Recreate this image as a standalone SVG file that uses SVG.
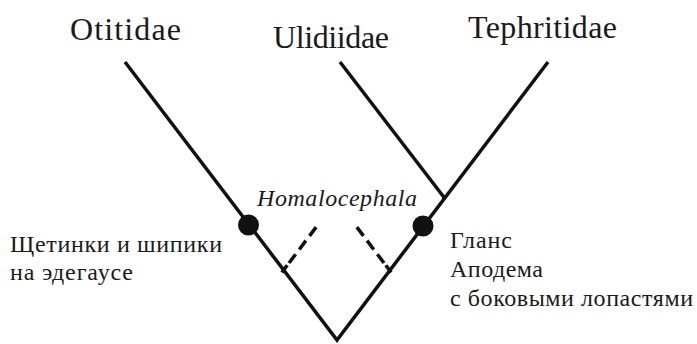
<svg xmlns="http://www.w3.org/2000/svg" width="697" height="344" viewBox="0 0 697 344">
<style>
text{font-family:'Liberation Serif','Times New Roman',serif;fill:#1a1a1a}
.title{font-size:32px}
.lab{font-size:24px}
.it{font-size:24px;font-style:italic}
.br{stroke:#111;stroke-width:3.5;fill:none;stroke-linecap:butt}
.dash{stroke:#111;stroke-width:3.5;fill:none;stroke-dasharray:11 6}
</style>
<rect width="697" height="344" fill="#fff"/>
<g id="connectors">
<polyline class="br" points="125,62 337,340 548,62" stroke-linejoin="miter"/>
<line class="br" x1="340" y1="62" x2="444.5" y2="198"/>
<line class="br" x1="281.8" y1="272.4" x2="287.2" y2="265.2"/>
<line class="dash" x1="289" y1="263" x2="317" y2="226"/>
<line class="br" x1="391.2" y1="272.4" x2="385.8" y2="265.2"/>
<line class="dash" x1="384" y1="263" x2="356" y2="226"/>
</g>
<g id="Otitidae"><text class="title" x="70" y="40" textLength="111" lengthAdjust="spacing">Otitidae</text></g>
<g id="Ulidiidae"><text class="title" x="273" y="48" textLength="116" lengthAdjust="spacing">Ulidiidae</text></g>
<g id="Tephritidae"><text class="title" x="468" y="38" textLength="149" lengthAdjust="spacing">Tephritidae</text></g>
<g id="Homalocephala"><text class="it" x="257" y="206" textLength="160" lengthAdjust="spacing">Homalocephala</text></g>
<g id="node-left">
<circle cx="248.5" cy="225" r="10.5" fill="#111"/>
<text class="lab" x="10" y="252" textLength="212" lengthAdjust="spacing">Щетинки и шипики</text>
<text class="lab" x="10" y="280" textLength="123" lengthAdjust="spacing">на эдегаусе</text>
</g>
<g id="node-right">
<circle cx="423" cy="226" r="10.5" fill="#111"/>
<text class="lab" x="450" y="248" textLength="62" lengthAdjust="spacing">Гланс</text>
<text class="lab" x="450" y="277" textLength="93" lengthAdjust="spacing">Аподема</text>
<text class="lab" x="450" y="306" textLength="243" lengthAdjust="spacing">с боковыми лопастями</text>
</g>
</svg>
